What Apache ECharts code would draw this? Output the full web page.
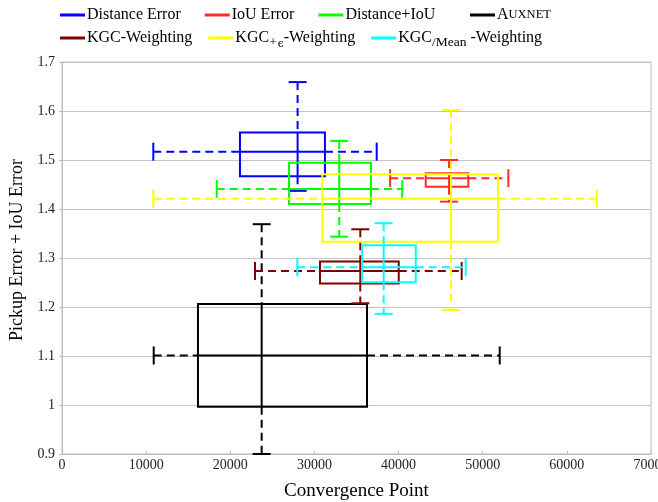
<!DOCTYPE html>
<html>
<head>
<meta charset="utf-8">
<script src="https://cdn.jsdelivr.net/npm/echarts@6/dist/echarts.min.js"></script>
<style>html,body{margin:0;padding:0;background:#fff}#c{width:658px;height:502px}</style>
</head>
<body>
<div id="c"></div>
<script>
// ---- data ----
const seriesNames = ['Distance Error','IoU Error','Distance+IoU','AuxNet','KGC-Weighting','KGC+eps-Weighting','KGC/Mean-Weighting'];
const centerX  = [28000, 46000, 32950, 23730, 35450, 46230, 38230];
const centerY  = [1.517, 1.463, 1.441, 1.101, 1.2735, 1.421, 1.281];
const boxXLow  = [21150, 43230, 26980, 16160, 30660, 30940, 35650];
const boxXHigh = [31250, 48290, 36720, 36250, 40020, 51820, 42040];
const boxYLow  = [1.467, 1.4455, 1.410, 0.9965, 1.248, 1.333, 1.2504];
const boxYHigh = [1.556, 1.473, 1.4945, 1.206, 1.293, 1.471, 1.326];
const whiskXLow  = [10850, 39000, 18390, 10900, 22940, 10850, 27970];
const whiskXHigh = [37400, 53050, 40440, 52020, 47500, 63550, 47980];
const whiskYLow  = [1.437, 1.415, 1.3435, 0.9, 1.2076, 1.194, 1.186];
const whiskYHigh = [1.659, 1.500, 1.539, 1.369, 1.3586, 1.602, 1.371];
const xTicks = [0, 10000, 20000, 30000, 40000, 50000, 60000, 70000];
const yTicks = [0.9, 1.0, 1.1, 1.2, 1.3, 1.4, 1.5, 1.6, 1.7];

// ---- styles ----
const colors = ['#0000ff', '#ff2b2b', '#00ff00', '#000000', '#800000', '#ffff00', '#00ffff'];
const FONT = 'Liberation Serif';

function renderItem(params, api) {
  const color = colors[params.seriesIndex];
  const cx = api.value(0), cy = api.value(1);
  const px = x => api.coord([x, cy])[0];
  const py = y => api.coord([cx, y])[1];
  const X = px(cx), Y = py(cy);
  const bx1 = px(api.value(2)), bx2 = px(api.value(3));
  const by1 = py(api.value(4)), by2 = py(api.value(5));
  const wx1 = px(api.value(6)), wx2 = px(api.value(7));
  const wy1 = py(api.value(8)), wy2 = py(api.value(9));
  const solid = {stroke: color, lineWidth: 2, fill: null};
  const dashed = {stroke: color, lineWidth: 2, fill: null, lineDash: [8, 5]};
  const cap = 9;
  const L = (x1, y1, x2, y2, st) => ({type: 'line', shape: {x1, y1, x2, y2}, style: st});
  return {
    type: 'group',
    children: [
      L(wx1, Y, bx1, Y, dashed),
      L(bx2, Y, wx2, Y, dashed),
      L(X, wy2, X, by2, dashed),
      L(X, by1, X, wy1, dashed),
      {type: 'rect', shape: {x: bx1, y: by2, width: bx2 - bx1, height: by1 - by2}, style: solid},
      L(bx1, Y, bx2, Y, solid),
      L(X, by2, X, by1, solid),
      L(wx1, Y - cap, wx1, Y + cap, solid),
      L(wx2, Y - cap, wx2, Y + cap, solid),
      L(X - cap, wy1, X + cap, wy1, solid),
      L(X - cap, wy2, X + cap, wy2, solid)
    ]
  };
}

const series = seriesNames.map((name, i) => ({
  name: name,
  type: 'custom',
  renderItem: renderItem,
  itemStyle: {color: colors[i]},
  clip: false,
  encode: {x: [0, 2, 3, 6, 7], y: [1, 4, 5, 8, 9]},
  data: [[centerX[i], centerY[i], boxXLow[i], boxXHigh[i], boxYLow[i], boxYHigh[i],
          whiskXLow[i], whiskXHigh[i], whiskYLow[i], whiskYHigh[i]]]
}));

const legendRich = {
  n: {fontFamily: FONT, fontSize: 16, color: '#000'},
  big: {fontFamily: FONT, fontSize: 16, color: '#000'},
  sc: {fontFamily: FONT, fontSize: 12.5, color: '#000'},
  sub: {fontFamily: FONT, fontSize: 13.5, color: '#000', verticalAlign: 'bottom', padding: [9, 0, 0, 0]},
  eps: {fontFamily: 'DejaVu Serif', fontSize: 10.5, color: '#000', verticalAlign: 'bottom', padding: [11, 0, 0, 1]}
};
function legendFmt(name) {
  if (name === 'AuxNet') return '{big|A}{sc|UXNET}';
  if (name === 'KGC+eps-Weighting') return '{n|KGC}{sub|+}{eps|\u03f5}{n|-Weighting}';
  if (name === 'KGC/Mean-Weighting') return '{n|KGC}{sub|/Mean}{n| -Weighting}';
  return '{n|' + name + '}';
}
const legendBase = {
  left: 60, padding: 0, icon: 'rect', itemWidth: 25, itemHeight: 3, itemGap: 22,
  formatter: legendFmt, selectedMode: false,
  textStyle: {fontFamily: FONT, fontSize: 16, color: '#000', rich: legendRich, padding: [0, 0, 0, -3]}
};

const option = {
  animation: false,
  backgroundColor: '#fff',
  grid: {left: 62, right: 7, top: 62, bottom: 48, show: true, borderColor: '#bdbdbd', borderWidth: 1,
         containLabel: false, outerBoundsMode: 'none'},
  legend: [
    Object.assign({}, legendBase, {top: 7, itemGap: 24, data: seriesNames.slice(0, 3)}),
    Object.assign({}, legendBase, {top: 7, left: 470, data: seriesNames.slice(3, 4)}),
    Object.assign({}, legendBase, {top: 30, itemGap: 16, data: seriesNames.slice(4)})
  ],
  xAxis: {
    type: 'value', min: xTicks[0], max: xTicks[xTicks.length - 1], interval: 10000,
    name: 'Convergence Point', nameLocation: 'middle', nameGap: 28,
    nameTextStyle: {fontFamily: FONT, fontSize: 19, color: '#000'},
    axisLine: {show: true, lineStyle: {color: '#bdbdbd'}},
    axisTick: {show: true, inside: true, length: 3, lineStyle: {color: '#bdbdbd'}},
    axisLabel: {fontFamily: FONT, fontSize: 14, color: '#222', margin: 4, formatter: v => String(v)},
    splitLine: {show: false}
  },
  yAxis: {
    type: 'value', min: yTicks[0], max: yTicks[yTicks.length - 1], interval: 0.1,
    name: 'Pickup Error + IoU Error', nameLocation: 'middle', nameGap: 36,
    nameTextStyle: {fontFamily: FONT, fontSize: 18, color: '#000', padding: [0, 0, 0, 16]},
    axisLine: {show: true, lineStyle: {color: '#bdbdbd'}},
    axisTick: {show: true, length: 3, lineStyle: {color: '#bdbdbd'}},
    axisLabel: {fontFamily: FONT, fontSize: 14, color: '#222', margin: 7,
      formatter: v => String(Math.round(v * 10) / 10)},
    splitLine: {show: true, lineStyle: {color: '#c4c4c4', width: 1}}
  },
  series: series
};
const chart = echarts.init(document.getElementById('c'), null, {renderer: 'canvas'});
chart.setOption(option);
</script>
</body>
</html>
